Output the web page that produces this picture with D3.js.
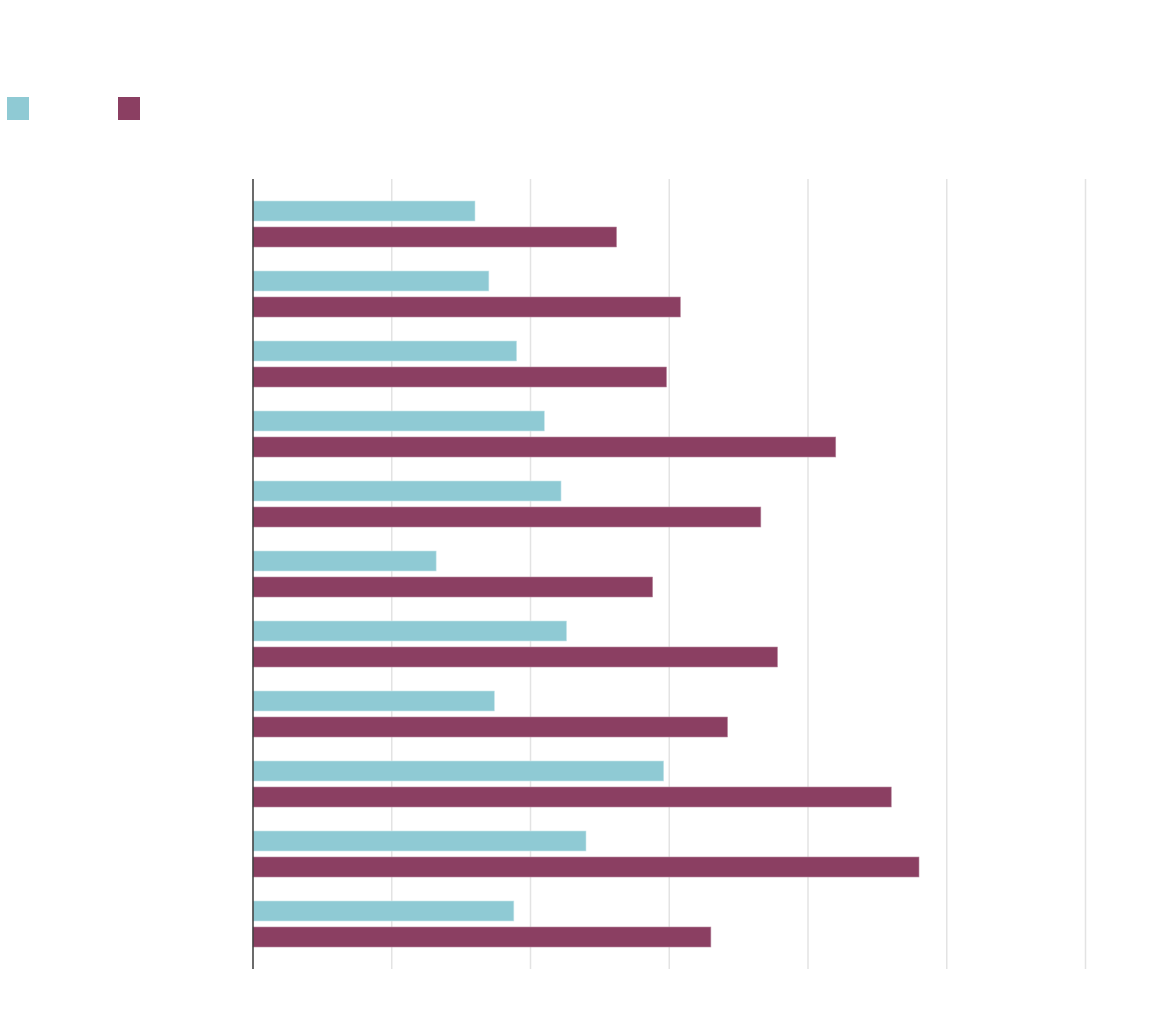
<!DOCTYPE html>
<html>
<head>
<meta charset="utf-8">
<script src="https://cdn.jsdelivr.net/npm/d3@7"></script>
<style>
    body { margin: 0; background: #fff; }
    .grid line { stroke: #e3e3e3; stroke-width: 1.5; }
    .axis-line { stroke: #3a3a3a; stroke-width: 1.5; }
</style>
</head>
<body>
<div id="chart"></div>
<script>
// groups carry no visible labels in the reference
var categories = ["1", "2", "3", "4", "5", "6", "7", "8", "9", "10", "11"];
var seriesNames = ["a", "b"];
var seriesA = [16.0, 17.0, 19.0, 21.0, 22.2, 13.2, 22.6, 17.4, 29.6, 24.0, 18.8];
var seriesB = [26.2, 30.8, 29.8, 42.0, 36.6, 28.8, 37.8, 34.2, 46.0, 48.0, 33.0];
var xTicks = [0, 10, 20, 30, 40, 50, 60];

var COLORS = ["#8fcad4", "#8b3f62"];
var STROKES = ["#c9e6eb", "#b98aa0"];

var W = 1160, H = 1034;
var svg = d3.select("#chart").append("svg")
    .attr("width", W)
    .attr("height", H);

var x = d3.scaleLinear().domain([0, 60]).range([253, 1085.5]);
var y = d3.scaleBand().domain(categories).range([189, 959]);
var ySub = d3.scaleBand().domain(seriesNames).range([12, 58]).paddingInner(6 / 26);

var plotTop = 179, plotBottom = 969;

// vertical grid
svg.append("g")
    .attr("class", "grid")
    .selectAll("line")
    .data(xTicks.slice(1))
    .enter().append("line")
    .attr("x1", function(d){ return x(d); })
    .attr("x2", function(d){ return x(d); })
    .attr("y1", plotTop)
    .attr("y2", plotBottom);

var rows = categories.map(function(c, i) {
    return { cat: c, values: [seriesA[i], seriesB[i]] };
});

var groups = svg.selectAll(".group").data(rows)
    .enter().append("g")
    .attr("class", "group")
    .attr("transform", function(d){ return "translate(0," + y(d.cat) + ")"; });

groups.selectAll("rect")
    .data(function(d){ return d.values.map(function(v, k){ return { s: seriesNames[k], k: k, v: v }; }); })
    .enter().append("rect")
    .attr("x", x(0))
    .attr("y", function(d){ return ySub(d.s); })
    .attr("width", function(d){ return x(d.v) - x(0); })
    .attr("height", ySub.bandwidth())
    .attr("fill", function(d){ return COLORS[d.k]; })
    .attr("stroke", function(d){ return STROKES[d.k]; })
    .attr("stroke-width", 0.6);

// left axis line
svg.append("line")
    .attr("class", "axis-line")
    .attr("x1", x(0)).attr("x2", x(0))
    .attr("y1", plotTop).attr("y2", plotBottom);

// legend swatches (no text in the reference)
var legend = svg.append("g").attr("class", "legend");
legend.selectAll("rect")
    .data(seriesNames)
    .enter().append("rect")
    .attr("x", function(d, i){ return 7 + i * 111; })
    .attr("y", 97)
    .attr("width", 22)
    .attr("height", 23)
    .attr("fill", function(d, i){ return COLORS[i]; });
</script>
</body>
</html>
